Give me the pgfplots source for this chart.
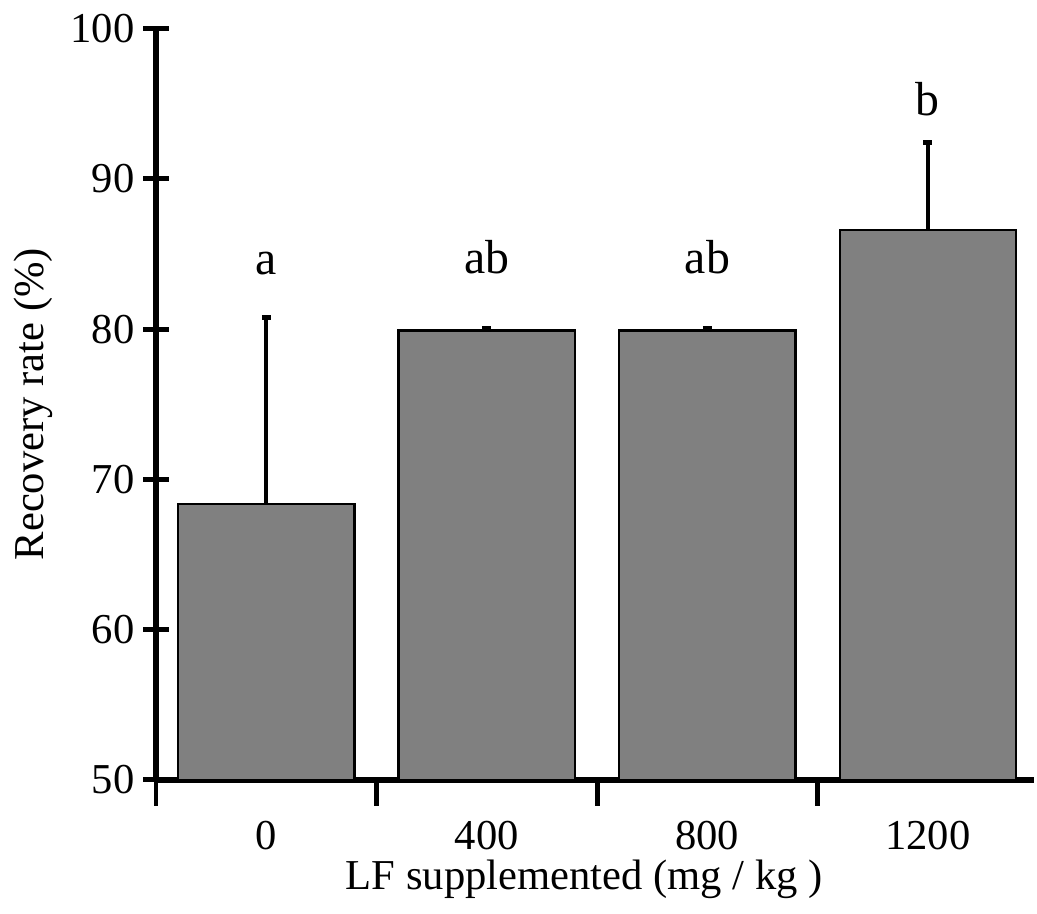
\documentclass[border=0pt]{standalone}
\usepackage{fontspec}
\setmainfont{Liberation Serif}
\usepackage{pgfplots}
\pgfplotsset{compat=1.18}
\definecolor{barfill}{RGB}{128,128,128}
\begin{document}
\fontsize{21.4pt}{25pt}\selectfont
\begin{tikzpicture}
\begin{axis}[
  scale only axis, width=441pt, height=377.5pt,
  xmin=-0.5, xmax=3.48, ymin=50, ymax=100,
  axis lines*=left,
  every inner x axis line/.append style={line width=3.3pt, black},
  every inner y axis line/.append style={line width=3.3pt, black},
  every outer x axis line/.append style={line width=3.3pt, black},
  every outer y axis line/.append style={line width=3.3pt, black},
  tick align=center,
  major tick length=13pt,
  every tick/.append style={line width=2.5pt, black},
  major tick style={line width=2.5pt, black},
  minor tick num=0,
  ytick={50,60,70,80,90,100},
  xtick={-0.5,0.5,1.5,2.5}, xticklabels={},
  extra x ticks={0,1,2,3},
  extra x tick labels={0,400,800,1200},
  extra x tick style={major tick length=0pt, xticklabel style={anchor=base, yshift=-35pt}},
  /pgf/number format/assume math mode=true,
  tick label style={font=\fontsize{21.4pt}{25pt}\selectfont},
  label style={font=\fontsize{21.4pt}{25pt}\selectfont},
  yticklabel style={anchor=east, xshift=3pt},
  ylabel={Recovery rate (\%)},
  xlabel={LF supplemented (mg / kg )},
  ylabel style={at={(axis description cs:-0.1395,0.5)}, anchor=center},
  xlabel style={at={(axis description cs:0.488,-0.133)}, anchor=center},
  ybar, bar width=0.8,
  clip=false,
]
\addplot[fill=barfill, draw=black, line width=1.1pt,
  error bars/.cd, y dir=plus, y explicit,
  error bar style={line width=2pt, black},
  error mark options={rotate=90, mark size=2.2pt, line width=2.5pt, black}]
  coordinates {
  (0,68.35) +- (0,12.45)
  (1,79.9) +- (0,0.15)
  (2,79.9) +- (0,0.15)
  (3,86.6) +- (0,5.8)
  };
\node[anchor=base, font=\fontsize{24pt}{28pt}\selectfont] at (axis cs:0,83.6) {a};
\node[anchor=base, font=\fontsize{24pt}{28pt}\selectfont] at (axis cs:1,83.7) {ab};
\node[anchor=base, font=\fontsize{24pt}{28pt}\selectfont] at (axis cs:2,83.7) {ab};
\node[anchor=base, font=\fontsize{24pt}{28pt}\selectfont] at (axis cs:3,94.2) {b};
\end{axis}
\end{tikzpicture}
\end{document}
